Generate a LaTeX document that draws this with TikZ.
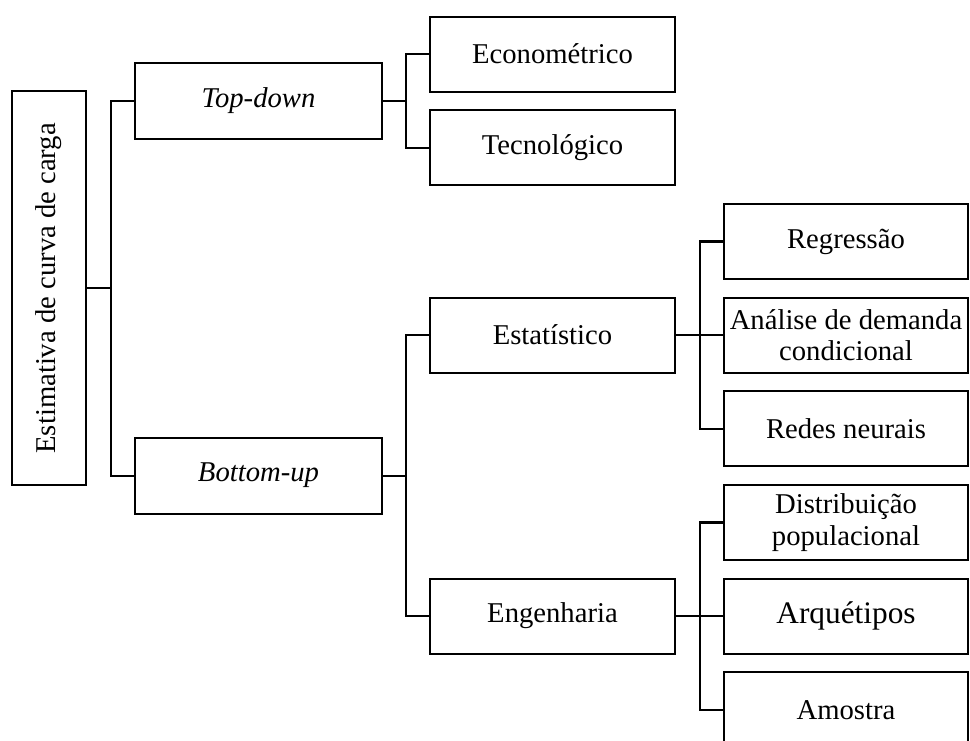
\documentclass[tikz,border=0pt]{standalone}
\usepackage{fontspec}
\setmainfont{Liberation Serif}
\usepackage{graphicx}
\usetikzlibrary{positioning,calc}
\tikzset{
  box/.style={draw=black, line width=1.6pt, align=center, inner sep=1pt,
              outer sep=0pt, font=\fontsize{21.5}{23.5}\selectfont, fill=white},
  rootbox/.style={box, minimum width=55.5pt, minimum height=295.5pt},
  lvlone/.style={box, minimum width=185.25pt, minimum height=57pt},
  lvltwo/.style={box, minimum width=183.75pt, minimum height=56.25pt},
  leaf/.style={box, minimum width=183pt, minimum height=56.25pt},
  link/.style={draw=black, line width=1.6pt}
}

\begin{document}
\begin{tikzpicture}[node distance=14pt]
  \useasboundingbox (0,0) rectangle (727.5pt,-555pt);

  % folhas (coluna da direita)
  \node[leaf] at (634.5pt,-181.1pt) (regr) {Regressão};
  \node[leaf, below=of regr] (analise) {Análise de demanda\\condicional};
  \node[leaf, below=of analise] (redes) {Redes neurais};
  \node[leaf, below=of redes] (distrib) {Distribuição\\populacional};
  \node[leaf, below=of distrib] (arquet) {{\fontsize{23.5}{26}\selectfont Arquétipos}};
  \node[leaf, below=of arquet] (amostra) {Amostra};

  % segundo nivel
  \node[lvltwo, left=36.75pt of analise] (estat) {Estatístico};
  \node[lvltwo, left=36.75pt of arquet] (engen) {Engenharia};
  \node[lvltwo] at (414.4pt,-40.6pt) (econ) {Econométrico};
  \node[lvltwo, below=of econ] (tecno) {Tecnológico};

  % primeiro nivel
  \node[lvlone, left=36pt of $(econ.west)!0.5!(tecno.west)$] (topdown) {\textit{Top-down}};
  \node[lvlone, left=36pt of $(estat.west)!0.5!(engen.west)$] (bottomup) {\textit{Bottom-up}};

  \node[rootbox, left=36.75pt of $(topdown.west)!0.5!(bottomup.west)$] (root)
       {\rotatebox{90}{Estimativa de curva de carga}};

  % barramentos
  \coordinate (rootbus) at ($(topdown.west)+(-18pt,0)$);
  \coordinate (tdbus) at ($(econ.west)+(-18pt,0)$);
  \coordinate (bubus) at ($(estat.west)+(-18pt,0)$);
  \coordinate (estbus) at ($(regr.west)+(-18pt,0)$);
  \coordinate (engbus) at ($(distrib.west)+(-18pt,0)$);

  \draw[link] (root.east) -- (root.east -| rootbus);
  \draw[link] (topdown.west) -- (rootbus) |- (bottomup.west);

  \draw[link] (topdown.east) -- (topdown.east -| tdbus);
  \draw[link] (econ.west) -- (tdbus) |- (tecno.west);

  \draw[link] (bottomup.east) -- (bottomup.east -| bubus);
  \draw[link] (estat.west) -- (bubus) |- (engen.west);

  \draw[link] (estat.east) -- (analise.west);
  \draw[link] (regr.west) -- (estbus) |- (redes.west);

  \draw[link] (engen.east) -- (arquet.west);
  \draw[link] (distrib.west) -- (engbus) |- (amostra.west);
\end{tikzpicture}
\end{document}
